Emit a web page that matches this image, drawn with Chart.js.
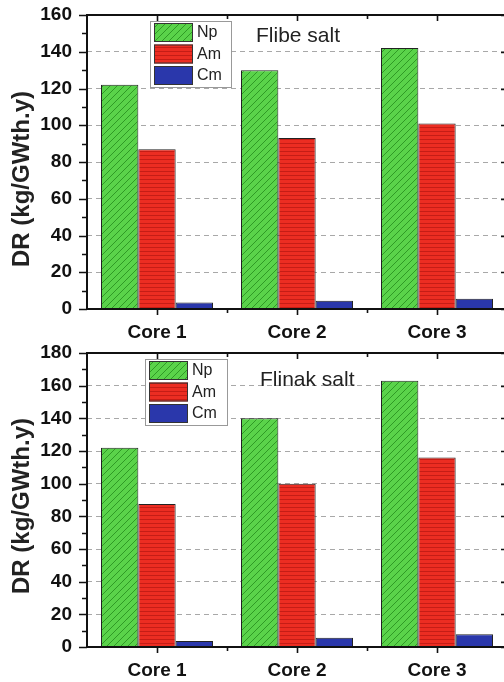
<!DOCTYPE html>
<html>
<head>
<meta charset="utf-8">
<script src="https://cdn.jsdelivr.net/npm/chart.js@4"></script>
<style>
  html, body { margin: 0; padding: 0; background: #fff; overflow: hidden; }
  .panel { position: absolute; left: 0; }
</style>
</head>
<body>
<div class="panel" style="top:0"><canvas id="flibe" width="512" height="340"></canvas></div>
<div class="panel" style="top:340px"><canvas id="flinak" width="512" height="342"></canvas></div>
<script>
// data
const cores = ['Core 1', 'Core 2', 'Core 3'];
const seriesNames = ['Np', 'Am', 'Cm'];
const flibeNp = [122, 130, 142];
const flibeAm = [87, 93, 101];
const flibeCm = [3.5, 4.5, 5.6];
const flinakNp = [122, 140, 163];
const flinakAm = [87.5, 100, 116];
const flinakCm = [3.7, 5.7, 7.8];
const flibeMax = 160;
const flinakMax = 180;

const FONT = '"Liberation Sans", Arial, sans-serif';

// fill patterns like the Origin hatches
function hatch(bg, fg, kind) {
  const c = document.createElement('canvas');
  c.width = 7; c.height = kind === 'diag' ? 7 : 4;
  const g = c.getContext('2d');
  g.fillStyle = bg;
  g.fillRect(0, 0, c.width, c.height);
  g.strokeStyle = fg;
  g.lineWidth = 1;
  g.beginPath();
  if (kind === 'diag') {
    g.moveTo(-1, 8); g.lineTo(8, -1);
    g.moveTo(-1, 1); g.lineTo(1, -1);
    g.moveTo(6, 8); g.lineTo(8, 6);
  } else {
    g.moveTo(0, 3.5); g.lineTo(7, 3.5);
  }
  g.stroke();
  return g.createPattern(c, 'repeat');
}

const npFill = hatch('#5ad34a', '#2f9a25', 'diag');
const amFill = hatch('#ec2d22', '#c51d16', 'horiz');
const cmFill = '#2a37ab';

const framePlugin = {
  id: 'frame',
  afterDraw(chart, args, opts) {
    const ctx = chart.ctx;
    const a = chart.chartArea;
    const y = chart.scales.y;
    const x = chart.scales.x;
    ctx.save();

    // frame and ticks
    ctx.strokeStyle = '#111';
    ctx.lineWidth = 2;
    ctx.strokeRect(a.left, a.top, a.right - a.left, a.bottom - a.top);
    ctx.lineWidth = 1.6;
    ctx.beginPath();
    for (let v = 0; v <= y.max; v += 10) {
      const py = Math.round(y.getPixelForValue(v)) + 0.5;
      const major = v % 20 === 0;
      ctx.moveTo(a.left - (major ? 8 : 5), py); ctx.lineTo(a.left, py);
      ctx.moveTo(a.right, py); ctx.lineTo(a.right - (major ? 6 : 3), py);
    }
    const step = x.getPixelForValue(1) - x.getPixelForValue(0);
    for (let i = 0; i < cores.length; i++) {
      const cx = x.getPixelForValue(i);
      [[cx, 6], [cx + step / 2, 4]].forEach(([px, len]) => {
        px = Math.round(px) + 0.5;
        ctx.moveTo(px, a.bottom); ctx.lineTo(px, a.bottom + len);
        ctx.moveTo(px, a.top); ctx.lineTo(px, a.top + len);
      });
    }
    ctx.stroke();

    // legend box
    const lg = opts.legend;
    ctx.fillStyle = '#fff';
    ctx.fillRect(lg.x, lg.y, lg.w, lg.h);
    ctx.strokeStyle = '#999';
    ctx.lineWidth = 1;
    ctx.strokeRect(lg.x + 0.5, lg.y + 0.5, lg.w, lg.h);
    chart.data.datasets.forEach((ds, i) => {
      const sy = lg.y + 2 + i * 21.5;
      ctx.fillStyle = ds.backgroundColor;
      ctx.fillRect(lg.x + 4, sy, 39, 19);
      ctx.strokeStyle = '#333';
      ctx.strokeRect(lg.x + 4.5, sy + 0.5, 38, 18);
      ctx.fillStyle = '#222';
      ctx.font = '16px ' + FONT;
      ctx.textBaseline = 'middle';
      ctx.textAlign = 'left';
      ctx.fillText(ds.label, lg.x + 47, sy + 10);
    });

    // panel label
    ctx.fillStyle = '#222';
    ctx.font = '21px ' + FONT;
    ctx.textBaseline = 'middle';
    ctx.fillText(opts.label, opts.labelX, opts.labelY);

    // y title
    ctx.save();
    ctx.translate(22, opts.titleY);
    ctx.rotate(-Math.PI / 2);
    ctx.textAlign = 'center';
    ctx.font = 'bold 24px ' + FONT;
    ctx.fillText('DR (kg/GWth.y)', 0, 0);
    ctx.restore();

    ctx.restore();
  }
};

function makeChart(id, np, am, cm, max, cfg) {
  return new Chart(document.getElementById(id), {
    type: 'bar',
    data: {
      labels: cores,
      datasets: [
        { label: seriesNames[0], data: np, backgroundColor: npFill },
        { label: seriesNames[1], data: am, backgroundColor: amFill },
        { label: seriesNames[2], data: cm, backgroundColor: cmFill }
      ].map(d => Object.assign(d, { borderColor: '#222', borderWidth: 1, categoryPercentage: 0.8, barPercentage: 1 }))
    },
    options: {
      responsive: false,
      animation: false,
      layout: { padding: { top: cfg.top, right: 5, left: 0, bottom: 0 } },
      plugins: {
        legend: { display: false },
        tooltip: { enabled: false },
        frame: cfg.frame
      },
      scales: {
        x: {
          grid: { display: false },
          border: { display: false },
          ticks: { color: '#111', padding: 4, font: { family: FONT, size: 19, weight: 'bold' } },
          afterFit: s => { s.height = cfg.xHeight; s.paddingLeft = 0; s.paddingRight = 0; }
        },
        y: {
          min: 0,
          max: max,
          grid: {
            drawTicks: false,
            color: c => (c.tick.value === 0 || c.tick.value === max) ? 'rgba(0,0,0,0)' : '#a8a8a8'
          },
          border: { display: false, dash: [5, 4] },
          ticks: { stepSize: 20, color: '#111', padding: 15, font: { family: FONT, size: 19, weight: 'bold' } },
          afterFit: s => { s.width = 87; s.paddingTop = 0; s.paddingBottom = 0; }
        }
      }
    },
    plugins: [framePlugin]
  });
}

makeChart('flibe', flibeNp, flibeAm, flibeCm, flibeMax, {
  top: 15, xHeight: 31,
  frame: { legend: { x: 150, y: 21, w: 81, h: 66 }, label: 'Flibe salt', labelX: 256, labelY: 36, titleY: 179 }
});
makeChart('flinak', flinakNp, flinakAm, flinakCm, flinakMax, {
  top: 13, xHeight: 35,
  frame: { legend: { x: 145, y: 19, w: 82, h: 66 }, label: 'Flinak salt', labelX: 260, labelY: 40, titleY: 166 }
});
</script>
</body>
</html>
